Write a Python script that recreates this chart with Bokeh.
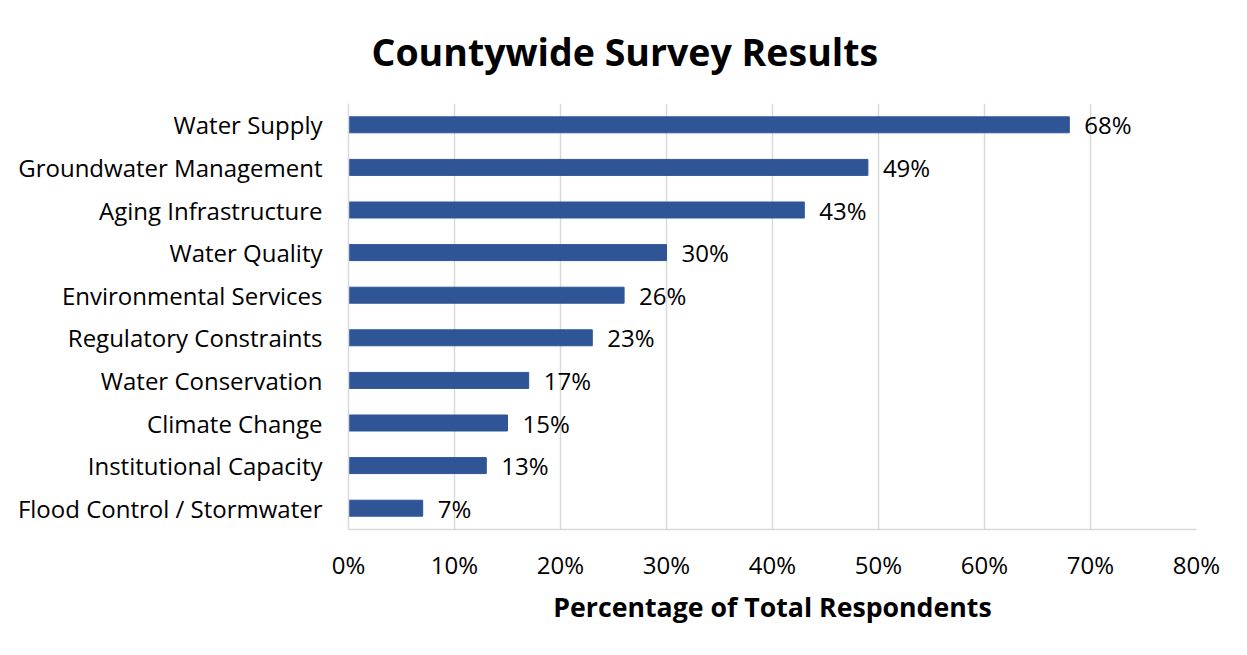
from bokeh.plotting import figure
from bokeh.models import Range1d, FactorRange, PrintfTickFormatter, ColumnDataSource, FixedTicker
from bokeh.core.properties import value
from bokeh.embed import file_html
from bokeh.resources import INLINE

categories = ["Water Supply", "Groundwater Management", "Aging Infrastructure", "Water Quality",
              "Environmental Services", "Regulatory Constraints", "Water Conservation",
              "Climate Change", "Institutional Capacity", "Flood Control / Stormwater"]
percentages = [68, 49, 43, 30, 26, 23, 17, 15, 13, 7]
x_ticks = [0, 10, 20, 30, 40, 50, 60, 70, 80]
title_text = "Countywide Survey Results"

FONT = "Open Sans"
src = ColumnDataSource(dict(cat=categories, val=percentages,
                            lab=[f"{v}%" for v in percentages]))

p = figure(width=1247, height=655, output_backend="svg", toolbar_location=None,
           y_range=FactorRange(*reversed(categories)), x_range=Range1d(0, 80),
           min_border_left=348, min_border_right=51, min_border_top=103, min_border_bottom=126)

p.hbar(y="cat", right="val", left=0, height=0.375, source=src, color="#2F5597")
p.text(x="val", y="cat", text="lab", source=src, x_offset=15, text_baseline="middle",
       text_align="left", text_font=value(FONT), text_font_size="24px", text_color="#000000")

p.title.text = title_text
p.title.text_font = FONT
p.title.text_font_size = "37.5px"
p.title.text_font_style = "bold"
p.title.text_color = "#000000"
p.title.align = "left"
p.title.offset = 23
p.title.vertical_align = "top"
p.title.standoff = 49

p.outline_line_color = None
p.ygrid.grid_line_color = None
p.xgrid.grid_line_color = "#d9d9d9"
p.xgrid.grid_line_width = 1.5

xa = p.xaxis[0]
xa.ticker = FixedTicker(ticks=x_ticks)
xa.formatter = PrintfTickFormatter(format="%d%%")
xa.axis_line_color = "#d9d9d9"
xa.axis_line_width = 1.5
xa.major_tick_line_color = None
xa.minor_tick_line_color = None
xa.major_label_standoff = 12
xa.major_label_text_font = FONT
xa.major_label_text_font_size = "24px"
xa.major_label_text_color = "#000000"
xa.axis_label = "Percentage of Total Respondents"
xa.axis_label_text_font = FONT
xa.axis_label_text_font_size = "26.7px"
xa.axis_label_text_font_style = "bold"
xa.axis_label_text_color = "#000000"
xa.axis_label_standoff = 4

ya = p.yaxis[0]
ya.axis_line_color = "#d9d9d9"
ya.axis_line_width = 1.5
ya.major_tick_line_color = None
ya.minor_tick_line_color = None
ya.major_label_standoff = 20
ya.major_label_text_font = FONT
ya.major_label_text_font_size = "24px"
ya.major_label_text_color = "#000000"

open("out.html", "w").write(file_html(p, INLINE))
